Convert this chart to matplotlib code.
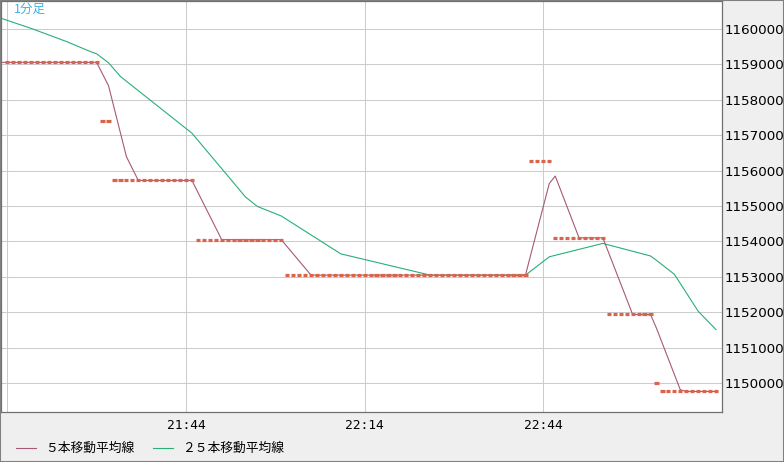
import numpy as np
import pandas as pd
import matplotlib.pyplot as plt
from matplotlib.lines import Line2D
from matplotlib.patches import Rectangle

# closes as runs (price level, number of 1-minute bars), first visible bar = 21:14
prior_levels = [11604700, 11606100, 11608100, 11605600, 11590500]
prior_counts = [5, 6, 4, 5, 5]
close_levels = [11590500, 11574000, 11557200, 11540500, 11530500,
                11562800, 11541000, 11519400, 11500000, 11497700]
close_counts = [16, 2, 14, 15, 41, 4, 9, 8, 1, 10]

tick_bars = [0, 30, 60, 90]
tick_labels = ["", "21:44", "22:14", "22:44"]
price_ticks = [11500000, 11510000, 11520000, 11530000, 11540000, 11550000,
               11560000, 11570000, 11580000, 11590000, 11600000]
series_names = ["５本移動平均線", "２５本移動平均線"]
title = "1分足"

C_BAR = "#d8654b"
C_MA5 = "#a85878"
C_MA25 = "#27b077"
CJK = ["Noto Sans CJK JP", "DejaVu Sans"]

prior = np.repeat(prior_levels, prior_counts)
close = np.repeat(close_levels, close_counts)
s = pd.Series(np.concatenate([prior, close]).astype(float))
idx_all = np.arange(-len(prior), len(close))
ma5 = s.rolling(5).mean().to_numpy()
ma25 = s.rolling(25).mean().to_numpy()
idx = np.arange(len(close))

W, H = 784, 462
fig = plt.figure(figsize=(W / 100, H / 100), dpi=100, facecolor="#efefef")
ax = fig.add_axes([0.5 / W, (H - 412) / H, 721.5 / W, 411.5 / H])
ax.set_facecolor("white")

keep = idx_all >= -3
ax.plot(idx_all[keep], ma25[keep], color=C_MA25, lw=0.8, zorder=2)
ax.plot(idx_all[keep], ma5[keep], color=C_MA5, lw=0.8, zorder=2)
ax.hlines(close, idx - 0.35, idx + 0.35, colors=C_BAR, lw=2.3, zorder=3)

ax.set_xlim(-1.14, 120.0)
ax.set_ylim(11491900, 11607950)

ax.set_xticks(tick_bars, tick_labels, fontfamily="DejaVu Sans Mono", fontsize=9.3)
ax.set_yticks(price_ticks, [str(p) for p in price_ticks], fontsize=9.7)
ax.yaxis.tick_right()
ax.tick_params(axis="x", length=0, pad=5)
ax.tick_params(axis="y", length=0, pad=1.5)
ax.grid(True, color="#cccccc", lw=0.75)
ax.set_axisbelow(True)
for sp in ax.spines.values():
    sp.set_color("#707070")
    sp.set_linewidth(0.9)

fig.text(14 / W, 1 - 9 / H, title, color="#3ab4e8", fontsize=9, va="center", family=CJK)

for x0, name, col in zip([16, 153], series_names, [C_MA5, C_MA25]):
    fig.add_artist(Line2D([x0 / W, (x0 + 20) / W], [1 - 447.5 / H] * 2, color=col, lw=0.8))
    fig.text((x0 + 29) / W, 1 - 448 / H, name, fontsize=9.2, va="center", ha="left", family=CJK)

fig.add_artist(Rectangle((0, 0), 1, 1, transform=fig.transFigure, fill=False, ec="#808080", lw=1.5))

fig.savefig("out.png", dpi=100, facecolor=fig.get_facecolor())
